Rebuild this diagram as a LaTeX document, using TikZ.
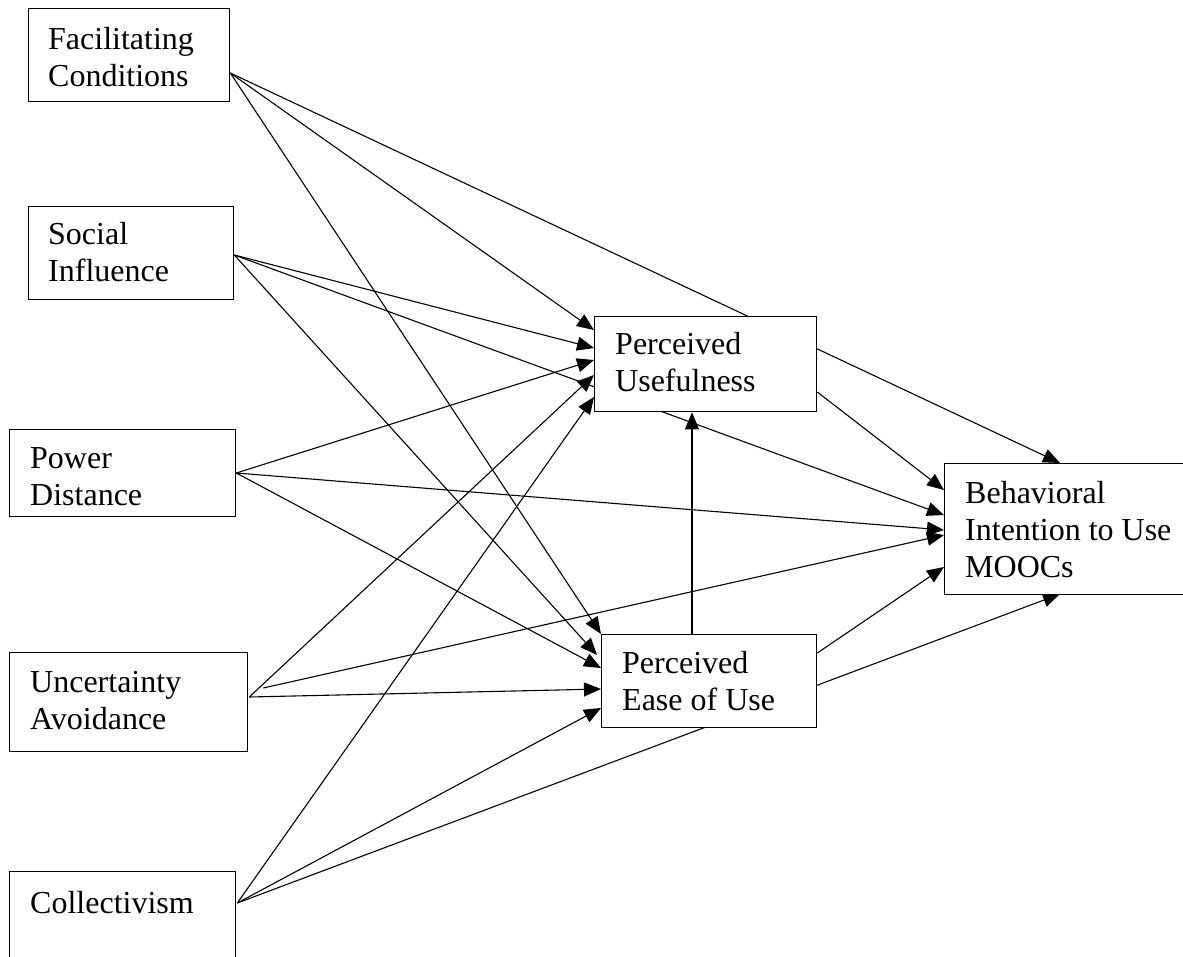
\documentclass[tikz,border=0pt]{standalone}
\usepackage{fontspec}
\setmainfont{Liberation Serif}
\usetikzlibrary{arrows.meta,calc}
\pgfdeclarelayer{bg}
\pgfsetlayers{bg,main}
\begin{document}
\begin{tikzpicture}[x=1pt,y=-1pt,
  box/.style={draw, line width=1.3pt, fill=white, anchor=north west, inner sep=0pt},
  lbl/.style={anchor=north west, inner sep=0pt, align=left, font=\fontsize{32}{37}\selectfont},
  arr/.style={line width=1.1pt, -{Triangle[length=17pt,width=14pt]}}]
\useasboundingbox (0,0) rectangle (1183,956);

% boxes
\node[box, minimum width=201pt, minimum height=93pt] (fc) at (28,8) {};
\node[box, minimum width=205pt, minimum height=93pt] (si) at (28,206) {};
\node[box, minimum width=226pt, minimum height=87pt] (pd) at (9,429) {};
\node[box, minimum width=238pt, minimum height=99pt] (ua) at (9,652) {};
\node[box, minimum width=226pt, minimum height=100pt] (co) at (9,871) {};
\node[box, minimum width=222pt, minimum height=95pt] (pu) at (594,316) {};
\node[box, minimum width=215pt, minimum height=93pt] (pe) at (601,634) {};
\node[box, minimum width=250pt, minimum height=131pt] (bi) at (944,463) {};

% labels
\node[lbl] (fct) at (48,27) {Facilitating\\Conditions};
\node[lbl] (sit) at (48,222) {Social\\Influence};
\node[lbl] (pdt) at (30,447) {Power\\Distance};
\node[lbl] (uat) at (30,671) {Uncertainty\\Avoidance};
\node[lbl] (cot) at (30,891) {Collectivism};
\node[lbl] (put) at (615,332) {Perceived\\Usefulness};
\node[lbl] (pet) at (622,651) {Perceived\\Ease of Use};
\node[lbl] (bit) at (965,481) {Behavioral\\Intention to Use\\MOOCs};

% connector end points
\coordinate (fcO) at ($(fc.north east)+(0,65)$);
\coordinate (siO) at ($(si.north east)+(0,49)$);
\coordinate (pdO) at ($(pd.north east)+(0,44)$);
\coordinate (uaO) at ($(ua.north east)+(1,45)$);
\coordinate (uaO2) at ($(ua.north east)+(15,36)$);
\coordinate (coO) at ($(co.north east)+(1,32)$);
\coordinate (puO) at ($(pu.north east)+(0,76)$);
\coordinate (peO) at ($(pe.north east)+(0,19)$);
\coordinate (peT) at ($(pe.north west)+(91,0)$);

\coordinate (puFC) at ($(pu.north west)+(0,14)$);
\coordinate (puSI) at ($(pu.north west)+(0,32)$);
\coordinate (puPD) at ($(pu.north west)+(0,44)$);
\coordinate (puUA) at ($(pu.north west)+(0,59)$);
\coordinate (puCO) at ($(pu.north west)+(0,81)$);

\coordinate (peFC) at (pe.north west);
\coordinate (peSI) at ($(pe.north west)+(-4,21)$);
\coordinate (pePD) at ($(pe.north west)+(0,34)$);
\coordinate (peUA) at ($(pe.north west)+(0,55)$);
\coordinate (peCO) at ($(pe.north west)+(0,74)$);

\coordinate (biFC) at ($(bi.north west)+(116,0)$);
\coordinate (biPU) at ($(bi.north west)+(0,27)$);
\coordinate (biSI) at ($(bi.north west)+(0,52)$);
\coordinate (biPD) at ($(bi.north west)+(0,67)$);
\coordinate (biUA) at ($(bi.north west)+(0,72)$);
\coordinate (biPE) at ($(bi.north west)+(0,104)$);
\coordinate (biCO) at ($(bi.north west)+(116,131)$);

\begin{pgfonlayer}{bg}
\draw[arr] (fcO) -- (puFC);
\draw[arr] (fcO) -- (peFC);
\draw[arr] (fcO) -- (biFC);
\draw[arr] (siO) -- (puSI);
\draw[arr] (siO) -- (peSI);
\draw[arr] (siO) -- (biSI);
\draw[arr] (pdO) -- (puPD);
\draw[arr] (pdO) -- (pePD);
\draw[arr] (pdO) -- (biPD);
\draw[arr] (uaO) -- (puUA);
\draw[arr] (uaO) -- (peUA);
\draw[arr] (uaO2) -- (biUA);
\draw[arr] (coO) -- (puCO);
\draw[arr] (coO) -- (peCO);
\draw[arr] (coO) -- (biCO);
\draw[arr] (puO) -- (biPU);
\draw[arr] (peO) -- (biPE);
\draw[arr] (peT) -- (peT |- pu.south);
\end{pgfonlayer}
\end{tikzpicture}
\end{document}
